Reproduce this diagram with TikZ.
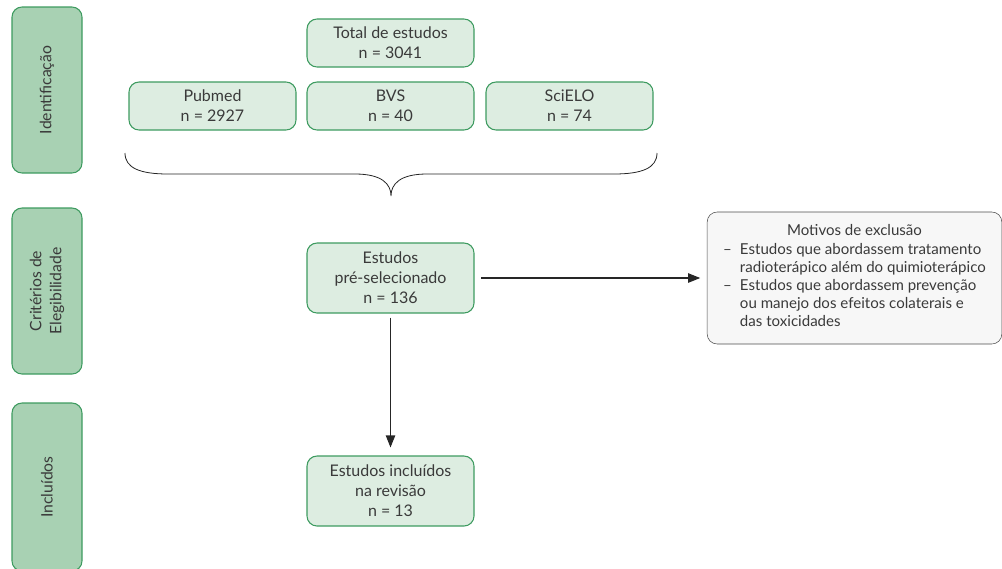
\documentclass[tikz,border=0pt]{standalone}
\usepackage{fontspec}
\setmainfont{Lato}
\usepackage{tikz}
\usetikzlibrary{positioning,arrows.meta,calc}

\definecolor{boxgreen}{HTML}{DDEDE1}
\definecolor{bargreen}{HTML}{A8D1B3}
\definecolor{edgegreen}{HTML}{3E9B60}
\definecolor{txtgray}{HTML}{3A3A3A}
\definecolor{exclgray}{HTML}{F7F7F7}

\begin{document}
\begin{tikzpicture}[
  x=0.75pt, y=-0.75pt,
  >={Triangle[length=9pt,width=7pt]},
  etapa/.style={
    draw=edgegreen, thick, fill=bargreen, rounded corners=7.5pt, rotate=90,
    minimum width=124.5pt, minimum height=52.5pt, inner sep=0pt,
    align=center, font=\fontsize{11.8}{15}\selectfont, text=txtgray
  },
  caixa/.style={
    draw=edgegreen, thick, fill=boxgreen, rounded corners=7.5pt,
    minimum width=125.25pt, minimum height=36pt, inner sep=0pt,
    align=center, font=\fontsize{12}{15}\selectfont, text=txtgray
  },
  motivo/.style={
    draw=black!70, fill=exclgray, rounded corners=7.5pt,
    minimum width=221pt, minimum height=99pt, inner sep=0pt,
    align=center, font=\fontsize{11.3}{13.5}\selectfont, text=txtgray
  },
  seta/.style={->, thick, draw=black!85, shorten <=5pt, shorten >=5pt}
]
\clip (0,0) rectangle (1002,568);
\useasboundingbox (0,0) rectangle (1002,568);

% --- Etapas (barras laterais)
\node[etapa] (ident) at (47,90)  {Identificação};
\node[etapa] (crit)  at (47,291) {Critérios de\\Elegibilidade};
\node[etapa, minimum width=126pt] (incl) at (47,487) {Incluídos};

% --- Identificação
\node[caixa] (total)  at (390.5,43)  {Total de estudos\\n = 3041};
\node[caixa] (pubmed) at (212.5,106) {Pubmed\\n = 2927};
\node[caixa] (bvs)    at (390.5,106) {BVS\\n = 40};
\node[caixa] (scielo) at (569.5,106) {SciELO\\n = 74};

% --- Chave sob as bases
\coordinate (bL) at (125,153);
\coordinate (bR) at (657,153);
\coordinate (bT) at (391,196);
\draw[semithick, black!85] (bL) .. controls (125,168) and (140,174) .. (168,174)
  -- (355,174) .. controls (382,174) and (391,184) .. (bT)
  .. controls (391,184) and (400,174) .. (427,174)
  -- (614,174) .. controls (642,174) and (657,168) .. (bR);

% --- Elegibilidade
\node[caixa, minimum height=52.5pt] (presel) at (390.5,278)
  {Estudos\\pré-selecionado\\n = 136};
\node[motivo] (motivos) at (854.5,278) {Motivos de exclusão\\[4pt]
  \begin{tabular}{@{}l@{\hspace{6pt}}l@{}}
  -- & Estudos que abordassem tratamento\\
     & radioterápico além do quimioterápico\\
  -- & Estudos que abordassem prevenção\\
     & ou manejo dos efeitos colaterais e\\
     & das toxicidades
  \end{tabular}};
\draw[seta] (presel) -- (motivos);

% --- Incluídos
\node[caixa, minimum height=52.5pt] (final) at (390.5,491)
  {Estudos incluídos\\na revisão\\n = 13};
\draw[seta, shorten <=3pt, shorten >=6pt] (presel) -- (final);

\end{tikzpicture}
\end{document}
